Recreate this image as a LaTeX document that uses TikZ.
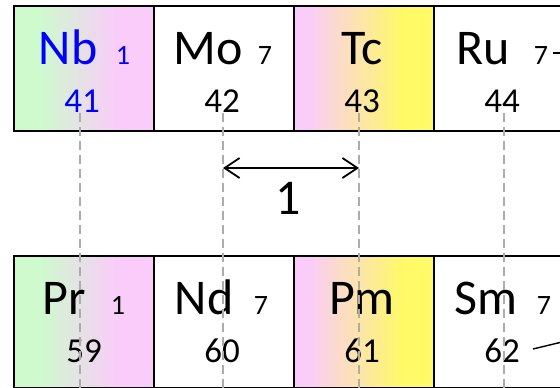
\documentclass[tikz,border=0pt]{standalone}
\usepackage{fontspec}
\setmainfont{Carlito}
\usetikzlibrary{arrows.meta}
\definecolor{cgreen}{RGB}{206,250,206}
\definecolor{cpink}{RGB}{250,204,250}
\definecolor{cyellow}{RGB}{255,250,102}
\definecolor{cgray}{RGB}{172,172,172}
\definecolor{cblue}{RGB}{0,0,255}
% the visible part of a shading is 25bp..75bp
\pgfdeclarehorizontalshading{greenpink}{100bp}{color(0bp)=(cgreen); color(34bp)=(cgreen); color(48bp)=(cgreen!50!cpink); color(62bp)=(cpink); color(100bp)=(cpink)}
\pgfdeclarehorizontalshading{pinkyellow}{100bp}{color(0bp)=(cpink); color(30bp)=(cpink); color(47bp)=(cpink!50!cyellow); color(64bp)=(cyellow); color(100bp)=(cyellow)}
\tikzset{
  cell/.style={draw=black, line width=1.8pt, minimum width=140pt, inner sep=0pt, anchor=north west},
  toprow/.style={cell, minimum height=125pt},
  botrow/.style={cell, minimum height=132pt},
  sym/.style={font=\fontsize{50}{50}\selectfont, inner sep=0pt, anchor=base},
  num/.style={font=\fontsize{35}{35}\selectfont, inner sep=0pt, anchor=base},
  tag/.style={font=\fontsize{28}{28}\selectfont, inner sep=0pt, anchor=base},
  guide/.style={draw=cgray, line width=1.5pt, dash pattern=on 9pt off 5pt},
  barb/.tip={Straight Barb[length=15pt,width=20pt,line width=1.8pt]},
  span/.style={line width=1.8pt, {barb}-{barb}}
}
\begin{document}
\begin{tikzpicture}[x=1pt,y=-1pt]
\useasboundingbox (0,0) rectangle (560,388);
\clip (0,0) rectangle (560,388);
% upper row: Nb Mo Tc Ru
\node[toprow, shading=greenpink] (nb) at (13,5) {};
\node[toprow, fill=white] (mo) at (153,5) {};
\node[toprow, shading=pinkyellow] (tc) at (293,5) {};
\node[toprow, fill=white] (ru) at (433,5) {};
% lower row: Pr Nd Pm Sm
\node[botrow, shading=greenpink] (pr) at (13,255) {};
\node[botrow, fill=white] (nd) at (153,255) {};
\node[botrow, shading=pinkyellow] (pm) at (293,255) {};
\node[botrow, fill=white] (sm) at (433,255) {};
% symbols, tags and atomic numbers
\node[sym, text=cblue] (nbs) at (68,64) {Nb};
\node[tag, text=cblue] (nbt) at (123,64) {1};
\node[num, text=cblue] (nbn) at (82,112) {41};
\node[sym] (mos) at (208,64) {Mo};
\node[tag] (mot) at (265,64) {7};
\node[num] (mon) at (222,112) {42};
\node[sym] (tcs) at (362,64) {Tc};
\node[num] (tcn) at (362,112) {43};
\node[sym] (rus) at (483,64) {Ru};
\node[tag] (rut) at (541,64) {7};
\node[num] (run) at (502,112) {44};
\node[sym] (prs) at (64,314) {Pr};
\node[tag] (prt) at (118,314) {1};
\node[num] (prn) at (84,362) {59};
\node[sym] (nds) at (204,314) {Nd};
\node[tag] (ndt) at (261,314) {7};
\node[num] (ndn) at (222,362) {60};
\node[sym] (pms) at (362,314) {Pm};
\node[num] (pmn) at (362,362) {61};
\node[sym] (sms) at (486,314) {Sm};
\node[tag] (smt) at (544,314) {7};
\node[num] (smn) at (502,362) {62};
% vertical guides
\foreach \n/\x in {a/80, b/223, c/359, d/504} {
  \coordinate (\n1) at (\x,113);
  \coordinate (\n2) at (\x,388);
  \draw[guide] (\n1) -- (\n2);
}
% spacing arrow between the 42 and 43 guides
\coordinate (sl) at (223,168);
\coordinate (sr) at (359,168);
\draw[span] (sl) -- (sr);
\node[font=\fontsize{50}{50}\selectfont, inner sep=0pt, anchor=base] (one) at (288,214) {1};
% leader strokes running off to the right
\coordinate (ru1) at (553,53);
\coordinate (ru2) at (562,53);
\draw[line width=1.4pt] (ru1) -- (ru2);
\coordinate (sm1) at (533,349);
\coordinate (sm2) at (562,342);
\draw[line width=1.4pt] (sm1) -- (sm2);
\end{tikzpicture}
\end{document}
